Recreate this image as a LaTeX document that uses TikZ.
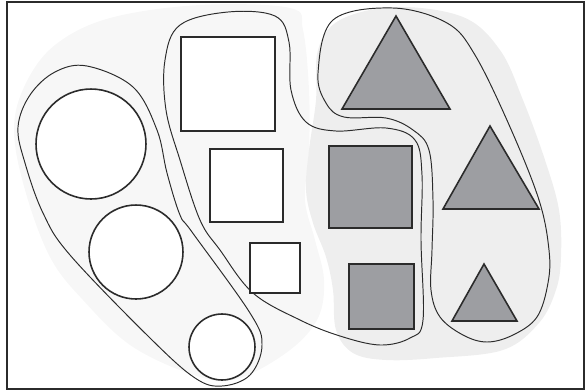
\documentclass[tikz,border=0pt]{standalone}
\usepackage{tikz}
\definecolor{xamnhat}{HTML}{F7F7F7}
\definecolor{xamvua}{HTML}{EEEEEE}
\definecolor{xamhinh}{HTML}{9D9EA2}
\definecolor{vien}{HTML}{2B2B2B}
\begin{document}
\begin{tikzpicture}[x=0.02cm, y=-0.02cm,
    hinh/.style={draw=vien, line width=0.9pt},
    hinhxam/.style={hinh, fill=xamhinh},
    hinhtrang/.style={hinh, fill=white},
    duongbao/.style={draw=vien, line width=0.55pt}]
    \useasboundingbox (0,0) rectangle (586,390);

    % Nen mau (nhom theo mau)
    \fill[xamnhat] plot[smooth cycle, tension=0.6] coordinates {(200,5) (290,8) (303,30) (309,90) (309,150) (305,200) (315,240) (324,280) (318,318) (290,350) (240,378) (200,377) (133,347) (83,300) (50,257) (25,190) (14,130) (25,85) (55,45) (110,18)};
    \fill[xamvua] plot[smooth cycle, tension=0.6] coordinates {(396,7) (463,17) (500,50) (523,100) (545,160) (559,210) (561,257) (556,290) (539,323) (503,350) (436,358) (386,360) (353,353) (336,330) (333,290) (326,257) (313,223) (306,190) (309,150) (316,100) (318,50) (340,20)};

    % Duong bao (nhom theo hinh dang)
    \draw[duongbao] plot[smooth cycle, tension=0.6] coordinates {(87,66) (133,87) (157,130) (167,173) (180,215) (192,232) (250,313) (262,345) (250,375) (222,386) (195,378) (150,338) (70,255) (43,213) (25,163) (18,127) (30,95) (55,72)};
    \draw[duongbao] plot[smooth cycle, tension=0.6] coordinates {(228,12) (275,16) (289,42) (291,90) (306,122) (336,131) (386,128) (415,140) (422,175) (421,240) (423,320) (410,338) (380,345) (340,336) (300,320) (253,293) (220,250) (200,220) (180,160) (166,110) (165,60) (180,25)};
    \draw[duongbao] plot[smooth cycle, tension=0.6] coordinates {(393,8) (447,23) (475,55) (510,127) (539,200) (549,250) (548,283) (537,317) (513,335) (487,342) (463,335) (440,317) (431,290) (432,250) (433,200) (429,150) (413,130) (386,118) (344,117) (326,103) (318,73) (333,20)};

    % Hinh tron
    \coordinate (C1) at (91,144);
    \coordinate (C2) at (136,252);
    \coordinate (C3) at (222,347);
    \draw[hinhtrang] (C1) circle[radius=1.1cm];
    \draw[hinhtrang] (C2) circle[radius=0.94cm];
    \draw[hinhtrang] (C3) circle[radius=0.66cm];

    % Hinh vuong trang
    \draw[hinhtrang] (181,37) rectangle (275,131);
    \draw[hinhtrang] (210,149) rectangle (283,222);
    \draw[hinhtrang] (250,243) rectangle (300,293);

    % Hinh vuong xam
    \draw[hinhxam] (329,146) rectangle (412,228);
    \draw[hinhxam] (349,264) rectangle (414,329);

    % Tam giac
    \draw[hinhxam] (396,16) -- (342,109) -- (450,109) -- cycle;
    \draw[hinhxam] (490,126) -- (443,209) -- (539,209) -- cycle;
    \draw[hinhxam] (484,264) -- (452,321) -- (517,321) -- cycle;

    % Khung
    \draw[vien, line width=1.1pt] (7,2) rectangle (584,389);
\end{tikzpicture}
\end{document}
